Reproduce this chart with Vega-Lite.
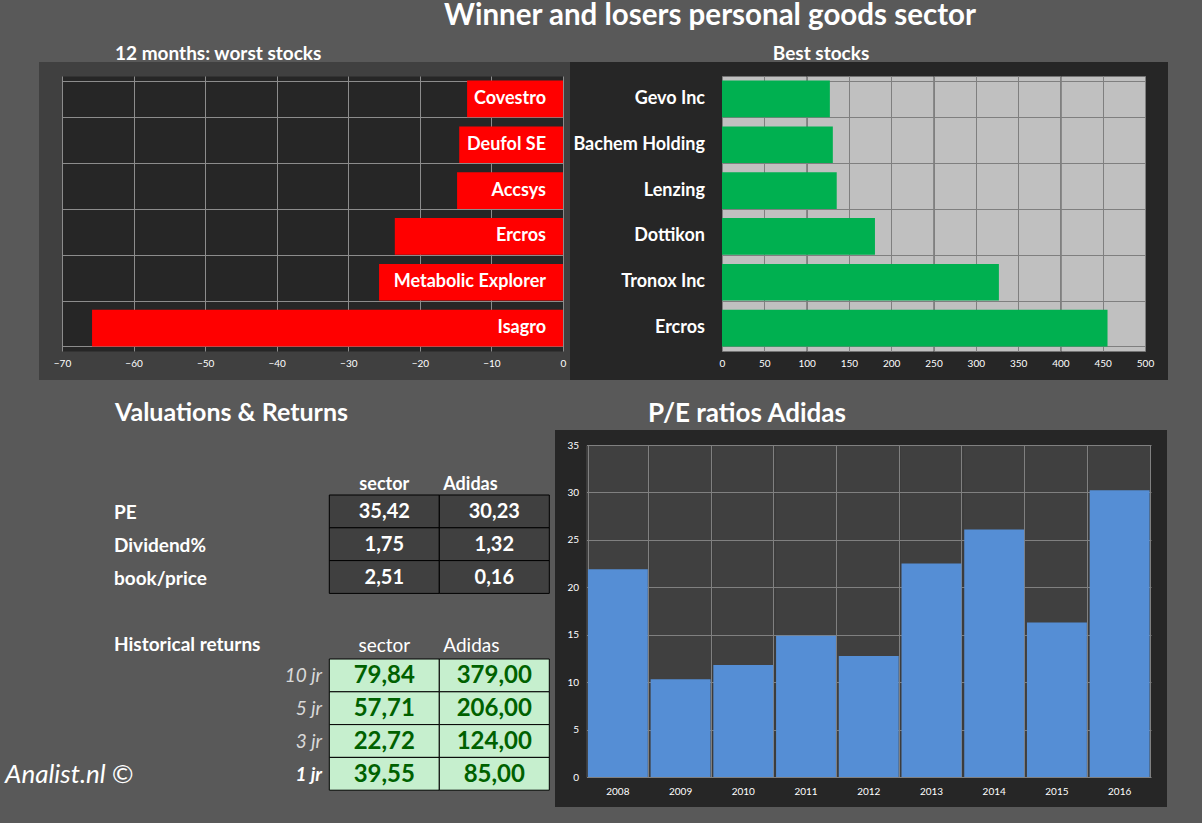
{
  "$schema": "https://vega.github.io/schema/vega-lite/v6.json",
  "background": "#595959",
  "padding": {"left": 5, "top": 0, "right": 40, "bottom": 20},
  "config": {
    "font": "Lato",
    "view": {"stroke": null},
    "title": {"color": "white", "fontWeight": "bold"}
  },
  "title": {"text": "Winner and losers personal goods sector", "fontSize": 29.5, "anchor": "middle", "frame": "bounds", "dx": 123.5, "offset": 14},
  "datasets": {
    "worst": [
      {"stock": "Covestro", "change": -13.4},
      {"stock": "Deufol SE", "change": -14.5},
      {"stock": "Accsys", "change": -14.8},
      {"stock": "Ercros", "change": -23.5},
      {"stock": "Metabolic Explorer", "change": -25.7},
      {"stock": "Isagro", "change": -65.8}
    ],
    "best": [
      {"stock": "Gevo Inc", "change": 127.5},
      {"stock": "Bachem Holding", "change": 131},
      {"stock": "Lenzing", "change": 135.6},
      {"stock": "Dottikon", "change": 180.8},
      {"stock": "Tronox Inc", "change": 327.3},
      {"stock": "Ercros", "change": 455.7}
    ],
    "pe": [
      {"year": "2008", "pe": 21.9},
      {"year": "2009", "pe": 10.3},
      {"year": "2010", "pe": 11.8},
      {"year": "2011", "pe": 14.9},
      {"year": "2012", "pe": 12.75},
      {"year": "2013", "pe": 22.5},
      {"year": "2014", "pe": 26.1},
      {"year": "2015", "pe": 16.3},
      {"year": "2016", "pe": 30.23}
    ],
    "cells": [
      {"tbl": "val", "row": "PE", "col": "sector", "v": "35,42"},
      {"tbl": "val", "row": "PE", "col": "Adidas", "v": "30,23"},
      {"tbl": "val", "row": "Dividend%", "col": "sector", "v": "1,75"},
      {"tbl": "val", "row": "Dividend%", "col": "Adidas", "v": "1,32"},
      {"tbl": "val", "row": "book/price", "col": "sector", "v": "2,51"},
      {"tbl": "val", "row": "book/price", "col": "Adidas", "v": "0,16"},
      {"tbl": "ret", "row": "10 jr", "col": "sector", "v": "79,84"},
      {"tbl": "ret", "row": "10 jr", "col": "Adidas", "v": "379,00"},
      {"tbl": "ret", "row": "5 jr", "col": "sector", "v": "57,71"},
      {"tbl": "ret", "row": "5 jr", "col": "Adidas", "v": "206,00"},
      {"tbl": "ret", "row": "3 jr", "col": "sector", "v": "22,72"},
      {"tbl": "ret", "row": "3 jr", "col": "Adidas", "v": "124,00"},
      {"tbl": "ret", "row": "1 jr", "col": "sector", "v": "39,55"},
      {"tbl": "ret", "row": "1 jr", "col": "Adidas", "v": "85,00"}
    ],
    "headers": [
      {"tbl": "val", "row": "hdr1", "col": "sector", "t": "sector"},
      {"tbl": "val", "row": "hdr1", "col": "Adidas", "t": "Adidas"},
      {"tbl": "ret", "row": "hdr2", "col": "sector", "t": "sector"},
      {"tbl": "ret", "row": "hdr2", "col": "Adidas", "t": "Adidas"}
    ],
    "labels": [
      {"row": "PE", "t": "PE", "kind": "metric"},
      {"row": "Dividend%", "t": "Dividend%", "kind": "metric"},
      {"row": "book/price", "t": "book/price", "kind": "metric"},
      {"row": "hdr2", "t": "Historical returns", "kind": "metric"},
      {"row": "10 jr", "t": "10 jr", "kind": "period"},
      {"row": "5 jr", "t": "5 jr", "kind": "period"},
      {"row": "3 jr", "t": "3 jr", "kind": "period"},
      {"row": "1 jr", "t": "1 jr", "kind": "current"}
    ],
    "credit": [
      {"row": "1 jr", "t": "Analist.nl ©"}
    ]
  },
  "columns": 2,
  "spacing": {"row": 65, "column": 0},
  "align": "none",
  "bounds": "flush",
  "concat": [
    {
      "width": 531,
      "height": 318,
      "view": {"fill": "#404040", "stroke": null},
      "title": {"text": "12 months: worst stocks", "anchor": "start", "frame": "group", "dx": 76, "offset": -2, "fontSize": 19},
      "data": {"name": "worst"},
      "resolve": {"axis": {"x": "independent"}},
      "encoding": {
        "y": {
          "field": "stock", "type": "nominal", "sort": null,
          "scale": {"range": [14, 289], "paddingInner": 0.2, "paddingOuter": 0.1},
          "axis": {"orient": "left", "labels": false, "ticks": false, "domain": false, "grid": true, "tickBand": "extent", "gridColor": "#8c8c8c", "gridWidth": 1, "title": null}
        }
      },
      "layer": [
        {
          "mark": {"type": "bar", "color": "#ff0000"},
          "encoding": {
            "x": {
              "field": "change", "type": "quantitative",
              "scale": {"domain": [-70, 0], "range": [23, 524], "nice": false},
              "axis": {"orient": "top", "values": [-65, -55, -45, -35, -25, -15, -5], "grid": true, "gridColor": "#262626", "gridWidth": 71.571, "labels": false, "ticks": false, "domain": false, "title": null}
            }
          }
        },
        {
          "mark": {"type": "text", "align": "right", "baseline": "middle", "dx": -17, "fontSize": 18, "fontWeight": "bold", "color": "white"},
          "encoding": {
            "x": {
              "datum": 0, "type": "quantitative",
              "axis": {"orient": "top", "offset": -289, "values": [-70, -60, -50, -40, -30, -20, -10, 0], "grid": true, "gridColor": "#8c8c8c", "gridWidth": 1, "labels": true, "labelColor": "white", "labelFontSize": 10, "labelBaseline": "top", "labelPadding": -7, "labelFlush": false, "labelOverlap": false, "ticks": false, "domain": false, "title": null}
            },
            "text": {"field": "stock"}
          }
        }
      ]
    },
    {
      "width": 598,
      "height": 318,
      "view": {"fill": "#262626", "stroke": null},
      "title": {"text": "Best stocks", "anchor": "middle", "frame": "group", "dx": -48, "offset": -2, "fontSize": 19},
      "data": {"name": "best"},
      "resolve": {"axis": {"x": "independent"}},
      "encoding": {
        "y": {
          "field": "stock", "type": "nominal", "sort": null,
          "scale": {"range": [14, 289], "paddingInner": 0.2, "paddingOuter": 0.1},
          "axis": {"orient": "left", "labels": false, "ticks": false, "domain": false, "grid": true, "tickBand": "extent", "gridColor": "#7f7f7f", "gridWidth": 1, "title": null}
        }
      },
      "layer": [
        {
          "mark": {"type": "bar", "color": "#00b050"},
          "encoding": {
            "x": {
              "field": "change", "type": "quantitative",
              "scale": {"domain": [0, 500], "range": [152, 575], "nice": false},
              "axis": {"orient": "top", "values": [25, 75, 125, 175, 225, 275, 325, 375, 425, 475], "grid": true, "gridColor": "#c0c0c0", "gridWidth": 42.3, "labels": false, "ticks": false, "domain": false, "title": null}
            }
          }
        },
        {
          "mark": {"type": "text", "align": "right", "baseline": "middle", "dx": -17, "fontSize": 18, "fontWeight": "bold", "color": "white"},
          "encoding": {
            "x": {
              "datum": 0, "type": "quantitative",
              "axis": {"orient": "top", "offset": -289, "values": [0, 50, 100, 150, 200, 250, 300, 350, 400, 450, 500], "grid": true, "gridColor": "#7f7f7f", "gridWidth": 1, "labels": true, "labelColor": "white", "labelFontSize": 10, "labelBaseline": "top", "labelPadding": -7, "labelFlush": false, "labelOverlap": false, "ticks": false, "domain": false, "title": null}
            },
            "text": {"field": "stock"}
          }
        }
      ]
    },
    {
      "width": 516,
      "height": 347,
      "title": {"text": "Valuations & Returns", "anchor": "start", "frame": "group", "dx": 76, "offset": 19, "fontSize": 25},
      "encoding": {
        "y": {
          "field": "row", "type": "nominal",
          "scale": {"domain": ["hdr1", "PE", "Dividend%", "book/price", "gap", "hdr2", "10 jr", "5 jr", "3 jr", "1 jr"], "range": [17.2, 345.2], "paddingInner": 0, "paddingOuter": 0},
          "axis": null
        }
      },
      "layer": [
        {
          "data": {"name": "cells"},
          "mark": {"type": "rect", "stroke": "#000000", "strokeWidth": 1},
          "encoding": {
            "x": {"field": "col", "type": "nominal", "scale": {"domain": ["sector", "Adidas"], "range": [290.3, 510.3], "paddingInner": 0, "paddingOuter": 0}, "axis": null},
            "fill": {"condition": {"test": "datum.tbl === 'val'", "value": "#404040"}, "value": "#c6efce"}
          }
        },
        {
          "data": {"name": "cells"},
          "mark": {"type": "text", "fontWeight": "bold", "baseline": "middle", "dy": 1},
          "encoding": {
            "x": {"field": "col", "type": "nominal", "axis": null},
            "text": {"field": "v"},
            "color": {"condition": {"test": "datum.tbl === 'val'", "value": "#ffffff"}, "value": "#006100"},
            "size": {"condition": {"test": "datum.tbl === 'val'", "value": 20}, "value": 24}
          }
        },
        {
          "data": {"name": "headers"},
          "transform": [{"filter": "datum.tbl === 'val' && datum.col === 'sector'"}],
          "mark": {"type": "text", "baseline": "middle", "dy": 6, "fontSize": 18, "fontWeight": "bold", "color": "white"},
          "encoding": {"x": {"field": "col", "type": "nominal", "axis": null}, "text": {"field": "t"}}
        },
        {
          "data": {"name": "headers"},
          "transform": [{"filter": "datum.tbl === 'val' && datum.col === 'Adidas'"}],
          "mark": {"type": "text", "align": "left", "baseline": "middle", "dy": 6, "dx": -51, "fontSize": 18, "fontWeight": "bold", "color": "white"},
          "encoding": {"x": {"field": "col", "type": "nominal", "axis": null}, "text": {"field": "t"}}
        },
        {
          "data": {"name": "headers"},
          "transform": [{"filter": "datum.tbl === 'ret' && datum.col === 'sector'"}],
          "mark": {"type": "text", "baseline": "middle", "dy": 3, "fontSize": 19, "color": "white"},
          "encoding": {"x": {"field": "col", "type": "nominal", "axis": null}, "text": {"field": "t"}}
        },
        {
          "data": {"name": "headers"},
          "transform": [{"filter": "datum.tbl === 'ret' && datum.col === 'Adidas'"}],
          "mark": {"type": "text", "align": "left", "baseline": "middle", "dy": 3, "dx": -51, "fontSize": 19, "color": "white"},
          "encoding": {"x": {"field": "col", "type": "nominal", "axis": null}, "text": {"field": "t"}}
        },
        {
          "data": {"name": "labels"},
          "transform": [{"filter": "datum.kind === 'metric'"}],
          "mark": {"type": "text", "align": "left", "baseline": "middle", "dy": 2, "dx": -270.3, "fontSize": 19, "fontWeight": "bold", "color": "white"},
          "encoding": {"x": {"datum": "sector", "type": "nominal", "axis": null}, "text": {"field": "t"}}
        },
        {
          "data": {"name": "labels"},
          "transform": [{"filter": "datum.kind === 'period'"}],
          "mark": {"type": "text", "align": "right", "baseline": "middle", "dy": 1, "dx": -62.3, "fontSize": 19, "fontStyle": "italic", "color": "#d9d9d9"},
          "encoding": {"x": {"datum": "sector", "type": "nominal", "axis": null}, "text": {"field": "t"}}
        },
        {
          "data": {"name": "labels"},
          "transform": [{"filter": "datum.kind === 'current'"}],
          "mark": {"type": "text", "align": "right", "baseline": "middle", "dy": 1, "dx": -62.3, "fontSize": 19, "fontStyle": "italic", "fontWeight": "bold", "color": "white"},
          "encoding": {"x": {"datum": "sector", "type": "nominal", "axis": null}, "text": {"field": "t"}}
        },
        {
          "data": {"name": "credit"},
          "mark": {"type": "text", "align": "left", "baseline": "middle", "dy": 1, "dx": -379.3, "fontSize": 26, "fontStyle": "italic", "color": "white"},
          "encoding": {"x": {"datum": "sector", "type": "nominal", "axis": null}, "text": {"field": "t"}}
        }
      ]
    },
    {
      "width": 582,
      "height": 347,
      "view": {"fill": "#262626", "stroke": "#262626", "strokeWidth": 30},
      "title": {"text": "P/E ratios Adidas", "anchor": "start", "frame": "group", "dx": 78, "offset": 13, "fontSize": 26},
      "data": {"name": "pe"},
      "resolve": {"axis": {"x": "independent"}},
      "layer": [
        {
          "mark": {"type": "bar", "color": "#558ed5"},
          "encoding": {
            "x": {
              "field": "year", "type": "nominal", "sort": null,
              "scale": {"range": [16.5, 581], "paddingInner": 0.045, "paddingOuter": 0.0225},
              "axis": {"orient": "top", "grid": true, "gridColor": "#404040", "gridWidth": 62.73, "labels": false, "ticks": false, "domain": false, "title": null}
            },
            "y": {
              "field": "pe", "type": "quantitative",
              "scale": {"domain": [0, 35], "range": [332, 0], "nice": false},
              "axis": {"orient": "left", "offset": -16.5, "values": [0, 5, 10, 15, 20, 25, 30, 35], "grid": true, "gridColor": "#808080", "gridWidth": 1, "labelColor": "white", "labelFontSize": 10, "labelPadding": 8, "labelOverlap": false, "labelFlush": false, "ticks": false, "domain": false, "title": null}
            }
          }
        },
        {
          "mark": {"type": "text", "baseline": "middle", "dy": 15, "fontSize": 10, "color": "white"},
          "encoding": {
            "x": {
              "field": "year", "type": "nominal", "sort": null,
              "axis": {"orient": "top", "offset": -332, "grid": true, "tickBand": "extent", "gridColor": "#808080", "gridWidth": 1, "labels": false, "ticks": false, "domain": false, "title": null}
            },
            "y": {"datum": 0, "type": "quantitative"},
            "text": {"field": "year"}
          }
        }
      ]
    }
  ]
}
